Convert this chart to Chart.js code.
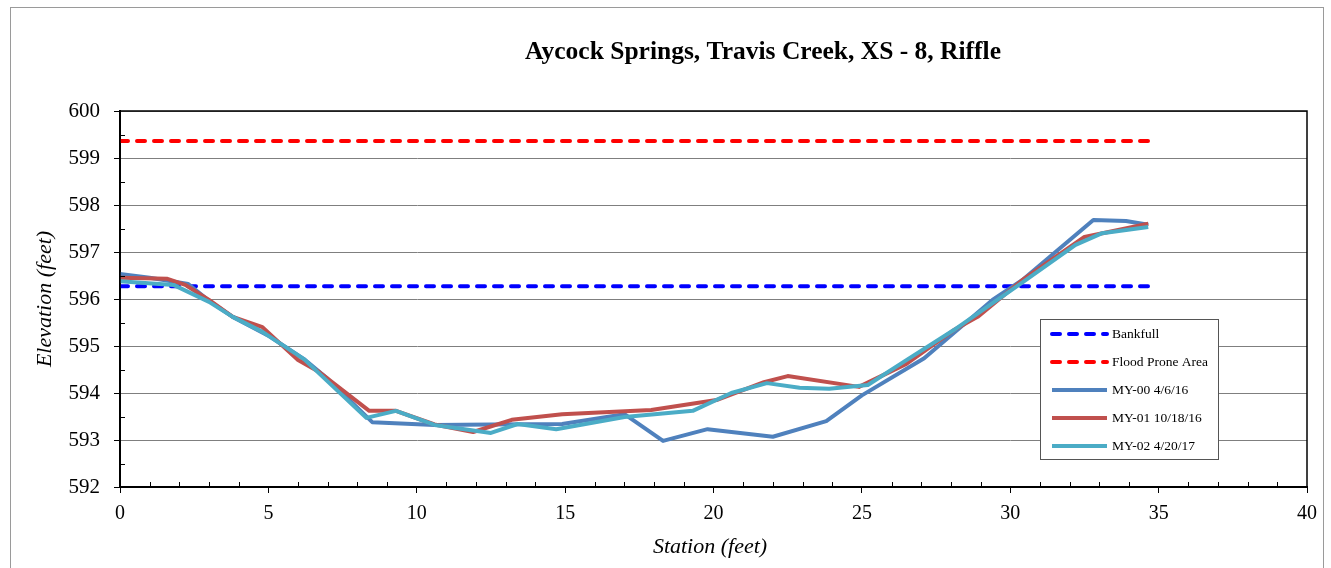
<!DOCTYPE html>
<html lang="en">
<head>
<meta charset="UTF-8">
<title>Aycock Springs, Travis Creek, XS - 8, Riffle</title>
<script src="https://cdn.jsdelivr.net/npm/chart.js"></script>
<style>
    body { margin: 0; background: #fff; overflow: hidden; }
    /* thin grey frame round the whole chart, like the spreadsheet chart object */
    .frame { position: absolute; left: 10px; top: 7px; width: 1312px; height: 600px; border: 1px solid #9a9a9a; }
    canvas { position: absolute; left: 0; top: 0; }
</style>
</head>
<body>
<div class="frame"></div>
<canvas id="xsChart" width="1331" height="568"></canvas>
<script>
    // Survey data (station ft, elevation ft)
    const chartTitle = "Aycock Springs, Travis Creek, XS - 8, Riffle";
    const xTitle = "Station (feet)";
    const yTitle = "Elevation (feet)";

    const bankfullStation = [0, 34.65];
    const bankfullElev = [596.27, 596.27];
    const floodStation = [0, 34.65];
    const floodElev = [599.36, 599.36];

    const my00Station = [0, 1.0, 2.3, 3.0, 3.8, 5.0, 6.2, 7.0, 8.5, 10.6, 12.5, 14.9, 17.0, 18.3, 19.8, 22.0, 23.8, 25.0, 27.1, 29.4, 30.4, 32.8, 33.9, 34.65];
    const my00Elev = [596.53, 596.45, 596.32, 595.96, 595.62, 595.22, 594.72, 594.30, 593.38, 593.32, 593.33, 593.34, 593.55, 592.98, 593.23, 593.07, 593.40, 593.95, 594.74, 595.98, 596.40, 597.68, 597.66, 597.58];

    const my01Station = [0, 1.6, 2.2, 3.0, 3.8, 4.8, 6.0, 6.7, 8.4, 9.3, 10.6, 11.9, 13.2, 14.9, 17.9, 20.1, 21.7, 22.5, 24.9, 26.5, 28.1, 28.9, 30.4, 32.5, 34.65];
    const my01Elev = [596.45, 596.43, 596.30, 595.98, 595.62, 595.40, 594.70, 594.45, 593.62, 593.62, 593.33, 593.17, 593.43, 593.55, 593.64, 593.85, 594.23, 594.36, 594.13, 594.62, 595.34, 595.62, 596.40, 597.32, 597.60];

    const my02Station = [0, 1.8, 3.0, 3.8, 4.8, 6.2, 8.3, 9.3, 10.6, 12.5, 13.4, 14.7, 17.0, 19.3, 20.6, 21.8, 22.9, 23.9, 25.2, 26.5, 28.1, 30.4, 32.2, 33.1, 34.65];
    const my02Elev = [596.38, 596.30, 595.94, 595.62, 595.30, 594.72, 593.47, 593.62, 593.32, 593.15, 593.34, 593.23, 593.49, 593.62, 594.00, 594.21, 594.11, 594.09, 594.17, 594.70, 595.34, 596.35, 597.15, 597.40, 597.53];

    const seriesLabels = ["Bankfull", "Flood Prone Area", "MY-00 4/6/16", "MY-01 10/18/16", "MY-02 4/20/17"];

    const serif = "'Liberation Serif', 'Times New Roman', serif";

    const pts = (xs, ys) => xs.map((x, i) => ({ x: x, y: ys[i] }));

    function dashed(label, xs, ys, color, order) {
        return {
            label: label, data: pts(xs, ys), borderColor: color, borderWidth: 4,
            borderDash: [8, 9], borderCapStyle: "round", pointRadius: 0, order: order
        };
    }
    function solid(label, xs, ys, color, order) {
        return {
            label: label, data: pts(xs, ys), borderColor: color, borderWidth: 4,
            pointRadius: 0, borderJoinStyle: "round", order: order
        };
    }

    // titles, minor ticks, plot frame and the boxed legend
    const decorations = {
        id: "decorations",
        afterDraw(chart) {
            const c = chart.ctx;
            const a = chart.chartArea;
            const xs = chart.scales.x, ys = chart.scales.y;
            c.save();

            // minor ticks, pointing into the plot
            c.strokeStyle = "#000";
            c.lineWidth = 1;
            c.beginPath();
            for (let v = 1; v < 40; v++) {
                if (v % 5 === 0) continue;
                const px = Math.round(xs.getPixelForValue(v)) + 0.5;
                c.moveTo(px, a.bottom); c.lineTo(px, a.bottom - 5);
            }
            for (let v = 592.5; v < 600; v += 1) {
                const py = Math.round(ys.getPixelForValue(v)) + 0.5;
                c.moveTo(a.left, py); c.lineTo(a.left + 5, py);
            }
            c.stroke();

            // plot frame
            c.lineWidth = 1.5;
            c.strokeRect(a.left, a.top, a.right - a.left, a.bottom - a.top);

            // chart title and axis titles
            c.fillStyle = "#000";
            c.textAlign = "center";
            c.textBaseline = "middle";
            c.font = "bold 25.5px " + serif;
            c.fillText(chartTitle, 763, 52);
            c.font = "italic 22px " + serif;
            c.fillText(xTitle, 710, 547);
            c.translate(45, (a.top + a.bottom) / 2);
            c.rotate(-Math.PI / 2);
            c.fillText(yTitle, 0, 0);
            c.setTransform(1, 0, 0, 1, 0, 0);

            // legend box
            const lx = 1040, ly = 319, lw = 178, lh = 140;
            c.fillStyle = "#fff";
            c.fillRect(lx, ly, lw, lh);
            c.strokeStyle = "#555";
            c.lineWidth = 1;
            c.strokeRect(lx + 0.5, ly + 0.5, lw, lh);
            c.font = "13.5px " + serif;
            c.textAlign = "left";
            chart.data.datasets.forEach((ds, i) => {
                const y = ly + 15 + i * 28;
                c.strokeStyle = ds.borderColor;
                c.lineWidth = ds.borderWidth;
                c.lineCap = ds.borderDash ? "round" : "butt";
                c.setLineDash(ds.borderDash || []);
                c.beginPath();
                c.moveTo(lx + 12, y); c.lineTo(lx + 67, y);
                c.stroke();
                c.setLineDash([]);
                c.fillStyle = "#000";
                c.fillText(ds.label, lx + 72, y);
            });
            c.restore();
        }
    };

    new Chart(document.getElementById("xsChart"), {
        type: "line",
        data: {
            datasets: [
                dashed(seriesLabels[0], bankfullStation, bankfullElev, "#0000ff", 4),
                dashed(seriesLabels[1], floodStation, floodElev, "#ff0000", 3),
                solid(seriesLabels[2], my00Station, my00Elev, "#4f81bd", 2),
                solid(seriesLabels[3], my01Station, my01Elev, "#c0504d", 1),
                solid(seriesLabels[4], my02Station, my02Elev, "#4bacc6", 0)
            ]
        },
        options: {
            responsive: false,
            animation: false,
            layout: { padding: { left: 10, top: 111, right: 24, bottom: 0 } },
            plugins: { legend: { display: false }, title: { display: false }, tooltip: { enabled: false } },
            elements: { line: { tension: 0 } },
            scales: {
                x: {
                    type: "linear", min: 0, max: 40,
                    afterFit: s => { s.height = 81; },
                    border: { color: "#000", width: 2 },
                    grid: { drawOnChartArea: false, drawTicks: true, tickLength: 6, color: "#000" },
                    ticks: { stepSize: 5, color: "#000", padding: 9, maxRotation: 0, autoSkip: false, font: { family: serif, size: 20 } }
                },
                y: {
                    type: "linear", min: 592, max: 600,
                    afterFit: s => { s.width = 110; },
                    border: { color: "#000", width: 2 },
                    grid: { color: "#7f7f7f", lineWidth: 1, drawTicks: true, tickLength: 6, tickColor: "#000" },
                    ticks: { stepSize: 1, color: "#000", padding: 14, font: { family: serif, size: 21 } }
                }
            }
        },
        plugins: [decorations]
    });
</script>
</body>
</html>
